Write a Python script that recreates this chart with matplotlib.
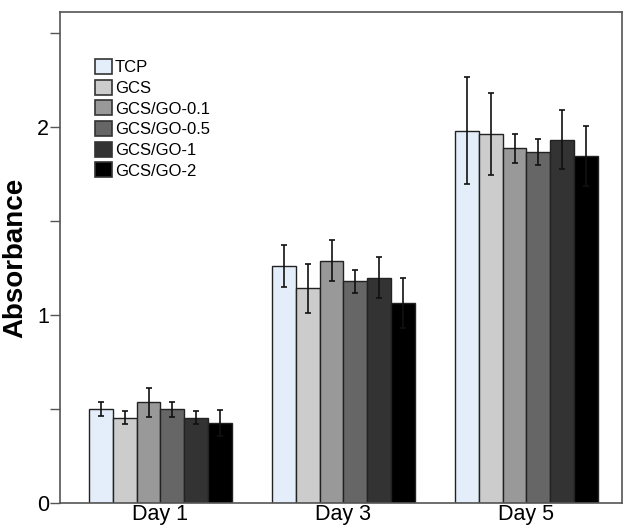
import matplotlib
matplotlib.use("Agg")
import matplotlib.pyplot as plt
from matplotlib.patches import Patch
import numpy as np

plt.rcParams['font.family'] = ['Liberation Sans', 'DejaVu Sans']

days = ["Day 1", "Day 3", "Day 5"]
groups = ["TCP", "GCS", "GCS/GO-0.1", "GCS/GO-0.5", "GCS/GO-1", "GCS/GO-2"]
colors = ["#e3eefa", "#cccccc", "#999999", "#666666", "#333333", "#000000"]

means = {
    "TCP":        [0.50, 1.262, 1.980],
    "GCS":        [0.455, 1.143, 1.963],
    "GCS/GO-0.1": [0.535, 1.289, 1.888],
    "GCS/GO-0.5": [0.50, 1.180, 1.867],
    "GCS/GO-1":   [0.455, 1.200, 1.934],
    "GCS/GO-2":   [0.425, 1.065, 1.847],
}
errors = {
    "TCP":        [0.035, 0.110, 0.285],
    "GCS":        [0.035, 0.130, 0.220],
    "GCS/GO-0.1": [0.075, 0.110, 0.076],
    "GCS/GO-0.5": [0.040, 0.060, 0.070],
    "GCS/GO-1":   [0.035, 0.110, 0.155],
    "GCS/GO-2":   [0.070, 0.135, 0.158],
}

fig = plt.figure(figsize=(6.26, 5.29), dpi=100)
ax = fig.add_axes([60/626, 26/529, 562/626, 491/529])

x = np.arange(len(days))
w = 0.1306
n = len(groups)
for i, g in enumerate(groups):
    pos = x + (i - (n - 1) / 2) * w
    ax.bar(pos, means[g], width=w, color=colors[i], edgecolor="#222222",
           linewidth=1.0, zorder=2)
    ax.errorbar(pos, means[g], yerr=errors[g], fmt="none", ecolor="#111111",
                elinewidth=1.2, capsize=2.2, capthick=1.2, zorder=3)

ax.set_xlim(-0.549, 2.522)
ax.set_ylim(0, 2.613)
ax.set_xticks(x)
ax.set_xticklabels(days, fontsize=15.5)
ax.tick_params(axis="x", length=0, pad=1)
ax.set_yticks([0, 0.5, 1, 1.5, 2, 2.5])
ax.set_yticklabels(["0", "", "1", "", "2", ""], fontsize=15.5)
ax.tick_params(axis="y", length=7, width=1, color="#555555", direction="out", pad=1)
for s in ax.spines.values():
    s.set_color("#555555")
    s.set_linewidth(1.2)

ax.set_ylabel("Absorbance", fontsize=20, fontweight="bold", labelpad=6)

handles = [Patch(facecolor=colors[i], edgecolor="#333333", linewidth=1.2) for i in range(n)]
leg = ax.legend(handles, groups, loc="upper left", bbox_to_anchor=(0.062, 0.904),
                frameon=False, fontsize=12, handlelength=1.0, handleheight=1.0,
                handletextpad=0.2, labelspacing=0.27, borderpad=0, borderaxespad=0)

fig.savefig("out.png", dpi=100)
